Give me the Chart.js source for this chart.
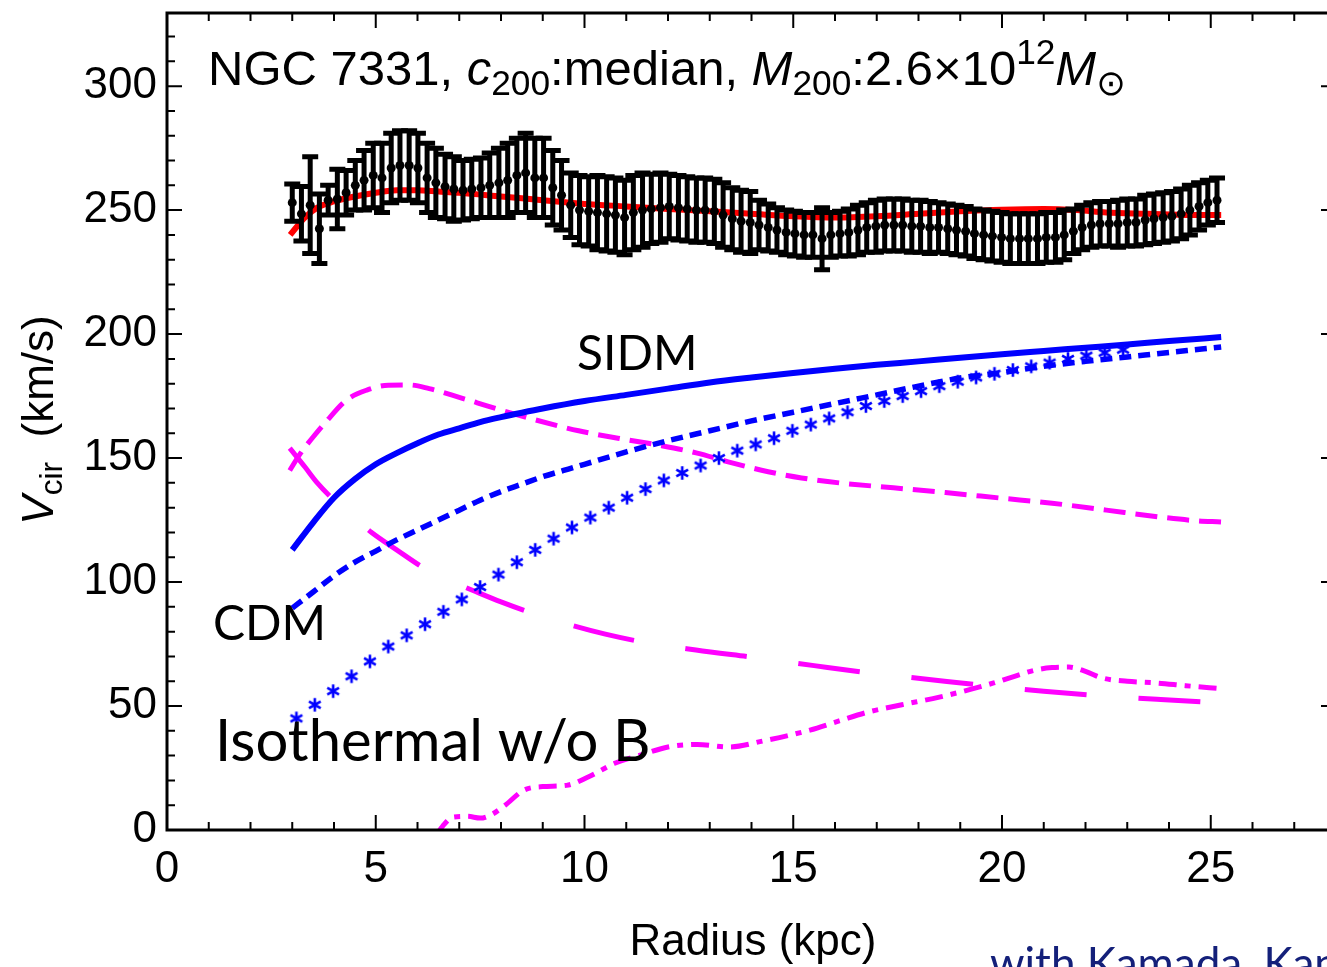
<!DOCTYPE html>
<html><head><meta charset="utf-8">
<script src="https://cdn.jsdelivr.net/npm/chart.js@4.4.1/dist/chart.umd.min.js"></script>
<style>html,body{margin:0;padding:0;overflow:hidden;background:#fff}canvas{display:block}</style>
</head><body>
<canvas id="c" width="1344" height="967" style="width:1344px;height:967px"></canvas>
<script>
// ---------- data ----------
const xTickVals = [0, 5, 10, 15, 20, 25];
const yTickVals = [0, 50, 100, 150, 200, 250, 300];

const obsR = [3.00,3.22,3.43,3.65,3.86,4.08,4.29,4.51,4.72,4.94,5.15,5.37,5.58,5.80,6.01,6.23,6.44,6.66,6.87,7.09,7.30,7.52,7.73,7.95,8.16,8.38,8.59,8.81,9.02,9.24,9.45,9.67,9.88,10.10,10.31,10.53,10.74,10.96,11.17,11.39,11.60,11.82,12.03,12.25,12.46,12.68,12.89,13.11,13.32,13.54,13.75,13.97,14.18,14.40,14.61,14.83,15.04,15.26,15.47,15.69,15.90,16.12,16.33,16.55,16.76,16.98,17.19,17.41,17.62,17.84,18.05,18.27,18.48,18.70,18.91,19.13,19.34,19.56,19.77,19.99,20.20,20.42,20.63,20.85,21.06,21.28,21.49,21.71,21.92,22.14,22.35,22.57,22.78,23.00,23.21,23.43,23.64,23.86,24.07,24.29,24.50,24.72,24.93,25.15];
const obsV = [253,248.5,252,242.5,254,254.5,257,260,262,264,263,267,268,268,267,263,261,259.5,258.5,258,258.5,259,260,261,262,264,265,263,263,259,256,252,250,249.5,249,248.5,248,247,249,250,250.5,251,251.5,251,250.5,250,250,249.5,248,246.5,245.5,245,244,243,242,241,240.5,240,240,238.5,240,240.5,241,242,243,243.5,244,244,244,243.5,243.5,243,243,242.5,242,241.5,240.5,240,239.5,239,238.5,238.5,238.5,238.5,239,239,240,241.5,243,244,244.5,244.5,244.5,245,245,246,246.5,247,247.5,248.5,250,251.5,253,254];
const obsErr = [7.5,11,19.5,14,6,12,9,10,12,13,14,14,14,14,14,14,14,13,13,12,12,12,13,14,15,15,16,16,16,15,14,13,14,14,15,15,15,15,15,15,14,14,13,13,13,13,13,13,13,12.5,12.5,12.5,10,9.5,9,9,9,9,9,12.5,9,9,9.5,10,10,10.5,10.5,10.5,10.5,10.5,10.5,10.5,10,10,10,10,10,10,10,10,10,10,10,10,10,10,10,9,9,9,9,9,9.5,9.5,9.5,10,10,10,10,10,10,9.5,9,9];

const fitR = [2.95,3.3,3.6,4.0,4.5,5.0,5.5,6.0,6.5,7.0,8.0,9.0,10.0,11.0,12.0,13.0,14.0,15.0,16.0,17.0,18.0,19.0,20.0,21.0,21.8,22.5,23.5,24.5,25.25];
const fitV = [240,247,251,253.5,255.5,257,258,258,257.5,257,255.5,254,252.5,251.5,250.5,249.5,248.5,247.5,247,247.5,248.5,249.5,250.2,250.5,250,249,248.5,248,248];

const sidmR = [3.0,3.5,4.0,4.5,5.0,5.5,6.0,6.5,7.0,7.5,8.0,8.5,9.0,10,11,12,13,14,15,16,17,18,19,20,21,22,23,24,25.25];
const sidmV = [113,124,134,141.5,147.5,152,156,159.5,162,164.5,166.5,168.3,170,173,175.5,178,180.5,182.5,184.3,186,187.6,189,190.5,191.9,193.2,194.5,195.8,197.2,198.8];

const cdmR = [3.0,3.5,4.0,4.5,5.0,5.5,6.0,6.5,7.0,7.5,8.0,8.5,9.0,9.5,10,11,12,13,14,15,16,17,18,19,20,21,22,23,24,25.25];
const cdmV = [89.5,96,102.5,108,112.5,117,121,125,129,133,136.5,139.5,142.5,145,147.5,152.5,157,161,165,168.5,172,175.5,179,182.3,184.5,187,189,190.8,192.6,194.8];

const isoR = [3.10,3.54,3.98,4.42,4.86,5.30,5.74,6.18,6.62,7.06,7.50,7.94,8.38,8.82,9.26,9.70,10.14,10.58,11.02,11.46,11.90,12.34,12.78,13.22,13.66,14.10,14.54,14.98,15.42,15.86,16.30,16.74,17.18,17.62,18.06,18.50,18.94,19.38,19.82,20.26,20.70,21.14,21.58,22.02,22.46,22.90];
const isoV = [45,50.5,56,62,68,74,78.5,83,88,93,98,103,108,113,117.5,122,126,130,134,137.5,141,144,147,150,153,155.5,158,161,163.5,166,168.5,171,173,175,177,179,180.8,182.5,184,185.5,187,188.5,190,191.3,192.5,193.7];

const diskR = [2.94,3.2,3.5,3.8,4.3,4.8,5.3,5.8,6.28,7.0,7.87,8.8,9.86,10.8,11.85,12.7,13.44,14.4,15.2,16.1,17.4,18.7,20.0,21.2,22.5,23.8,24.6,25.25];
const diskV = [145,152,158.5,164.5,173.4,177.5,179.4,179.5,178,174.5,170,165.5,161,158,155,152,148.5,144.5,142,140,138,136,133.8,131.8,129,126.2,124.8,124.2];

const bulgeR = [2.94,3.3,3.6,3.94,4.4,4.9,5.5,6.16,6.7,7.3,8.0,8.74,9.5,10.5,11.5,12.67,14.15,15.5,17.0,18.2,19.8,21.0,22.5,23.8,25.25];
const bulgeV = [154,146.5,140,134,127,120,113,105.6,101,96.8,92,87.5,83.5,79,75.5,72.6,69.4,66.3,63,60.8,57.9,56,54,52.6,51.2];

const gasR = [6.45,6.6,6.85,7.2,7.5,7.75,8.1,8.54,9.0,9.57,10.1,10.74,11.4,12.0,12.7,13.46,14.3,15.4,16.1,16.8,17.6,18.5,19.2,19.8,20.3,20.8,21.2,21.6,22.0,22.4,23.0,23.7,24.4,25.25];
const gasV = [-2,1.5,5.2,5.5,4.8,6,10,16,17.5,18,21.5,27,30.5,33.5,34.5,33.5,36,40.3,44,47.6,50.5,53.6,56.5,59.3,62,64.5,65.5,65.7,64,61.3,60,59.3,58.2,57];

// ---------- helpers ----------
const FAM = "'Liberation Sans', Arial, 'DejaVu Sans', sans-serif";
const GILL = "Lato, 'Open Sans', sans-serif";
const pts = (xs, ys) => xs.map((v, i) => ({x: v, y: ys[i]}));

function makeStar() {
  const c = document.createElement('canvas');
  c.width = 18; c.height = 18;
  const g = c.getContext('2d');
  g.strokeStyle = '#0000ff'; g.lineWidth = 2.6; g.lineCap = 'butt';
  g.beginPath();
  for (let k = 0; k < 3; k++) {
    const a = Math.PI / 2 + k * Math.PI / 3, R = 6.8;
    g.moveTo(9 + R * Math.cos(a), 9 + R * Math.sin(a));
    g.lineTo(9 - R * Math.cos(a), 9 - R * Math.sin(a));
  }
  g.stroke();
  return c;
}

function rich(ctx, x, y, parts, size, draw) {
  let cx = x;
  for (const p of parts) {
    let s = size, dy = 0, st = '';
    if (p.f === 'i') st = 'italic ';
    if (p.f === 'sub') { s = size * 0.72; dy = size * 0.2; }
    if (p.f === 'sup') { s = size * 0.72; dy = -size * 0.42; }
    ctx.font = st + s + 'px ' + (p.fam || FAM);
    if (draw) ctx.fillText(p.t, cx, y + dy);
    cx += ctx.measureText(p.t).width;
  }
  return cx - x;
}

const errPlugin = {
  id: 'err',
  afterDatasetDraw(chart, args) {
    if (args.index !== 0) return;
    const {ctx, scales: {x, y}, chartArea: a} = chart;
    ctx.save();
    ctx.beginPath(); ctx.rect(a.left, a.top, a.right - a.left, a.bottom - a.top); ctx.clip();
    ctx.strokeStyle = '#000'; ctx.lineWidth = 5; ctx.lineCap = 'butt';
    obsR.forEach((r, i) => {
      const px = x.getPixelForValue(r);
      const t = y.getPixelForValue(obsV[i] + obsErr[i]);
      const b = y.getPixelForValue(obsV[i] - obsErr[i]);
      ctx.beginPath();
      ctx.moveTo(px, t - 2.5); ctx.lineTo(px, b + 2.5);
      ctx.moveTo(px - 8, t); ctx.lineTo(px + 8, t);
      ctx.moveTo(px - 8, b); ctx.lineTo(px + 8, b);
      ctx.stroke();
    });
    ctx.restore();
  }
};

const framePlugin = {
  id: 'frame',
  afterDraw(chart) {
    const {ctx, scales: {x, y}, chartArea: a} = chart;
    ctx.save();
    ctx.strokeStyle = '#000';
    ctx.lineWidth = 3;
    ctx.strokeRect(a.left, a.top, a.right - a.left, a.bottom - a.top);
    ctx.lineWidth = 2;
    ctx.beginPath();
    for (let v = 0; v <= 28; v++) {
      const px = x.getPixelForValue(v);
      const L = (v % 5 === 0) ? 15 : 8;
      ctx.moveTo(px, a.bottom); ctx.lineTo(px, a.bottom - L);
      ctx.moveTo(px, a.top); ctx.lineTo(px, a.top + L);
    }
    for (let v = 0; v <= 320; v += 10) {
      const py = y.getPixelForValue(v);
      const L = (v % 50 === 0) ? 15 : 8;
      ctx.moveTo(a.left, py); ctx.lineTo(a.left + L, py);
      ctx.moveTo(a.right, py); ctx.lineTo(a.right - L, py);
    }
    ctx.stroke();

    // texts
    ctx.fillStyle = '#000';
    ctx.textBaseline = 'alphabetic';
    ctx.textAlign = 'left';
    const title = [
      {t: 'NGC 7331, ', f: 'n'}, {t: 'c', f: 'i'}, {t: '200', f: 'sub'},
      {t: ':median, ', f: 'n'}, {t: 'M', f: 'i'}, {t: '200', f: 'sub'},
      {t: ':2.6×10', f: 'n'}, {t: '12', f: 'sup'}, {t: 'M', f: 'i'},
      {t: '⊙', f: 'sub', fam: "'DejaVu Sans', sans-serif"}
    ];
    rich(ctx, 208, 85, title, 49, true);

    // x title
    ctx.font = '44px ' + FAM;
    ctx.textAlign = 'center';
    ctx.fillText('Radius (kpc)', 753, 955);

    // y title rotated
    ctx.save();
    ctx.translate(53, 420);
    ctx.rotate(-Math.PI / 2);
    ctx.textAlign = 'left';
    const yt = [{t: 'V', f: 'i'}, {t: 'cir', f: 'sub'}, {t: '  (km/s)', f: 'n'}];
    const w = rich(ctx, 0, 0, yt, 44, false);
    rich(ctx, -w / 2, 0, yt, 44, true);
    ctx.restore();

    // curve labels
    ctx.textAlign = 'left';
    ctx.font = '48px ' + GILL;
    ctx.fillText('SIDM', 577, 370);
    ctx.fillText('CDM', 213, 640);
    ctx.font = '58px ' + GILL;
    ctx.fillText('Isothermal w/o B', 215, 761);
    ctx.fillStyle = '#14207a';
    ctx.font = '44px ' + GILL;
    ctx.fillText('with Kamada, Kaplinghat', 990, 979);
    ctx.restore();
  }
};

const tickFont = {family: FAM, size: 44};

new Chart(document.getElementById('c'), {
  type: 'scatter',
  data: {
    datasets: [
      {label: 'fit', data: pts(fitR, fitV), showLine: true, borderColor: '#ff0000', borderWidth: 6,
       pointRadius: 0, cubicInterpolationMode: 'monotone', order: 3},
      {label: 'obs', data: pts(obsR, obsV), showLine: false, pointRadius: 4.5, pointBackgroundColor: '#000',
       pointBorderColor: '#000', pointBorderWidth: 0, order: 1},
      {label: 'SIDM', data: pts(sidmR, sidmV), showLine: true, borderColor: '#0000ff', borderWidth: 6,
       pointRadius: 0, cubicInterpolationMode: 'monotone', order: 2},
      {label: 'CDM', data: pts(cdmR, cdmV), showLine: true, borderColor: '#0000ff', borderWidth: 5.5,
       borderDash: [12, 7], pointRadius: 0, cubicInterpolationMode: 'monotone', order: 2},
      {label: 'Isothermal w/o B', data: pts(isoR, isoV), showLine: false, pointStyle: makeStar(),
       pointRadius: 7, order: 2},
      {label: 'disk', data: pts(diskR, diskV), showLine: true, borderColor: '#ff00ff', borderWidth: 5,
       borderDash: [22, 10], pointRadius: 0, cubicInterpolationMode: 'monotone', order: 2},
      {label: 'bulge', data: pts(bulgeR, bulgeV), showLine: true, borderColor: '#ff00ff', borderWidth: 5,
       borderDash: [62, 52], pointRadius: 0, cubicInterpolationMode: 'monotone', order: 2},
      {label: 'gas', data: pts(gasR, gasV), showLine: true, borderColor: '#ff00ff', borderWidth: 5,
       borderDash: [18, 8, 6, 8], pointRadius: 0, cubicInterpolationMode: 'monotone', order: 2}
    ]
  },
  options: {
    responsive: false, animation: false, devicePixelRatio: 1,
    layout: {padding: {top: 13, right: 3, left: 0, bottom: 0}},
    plugins: {legend: {display: false}, tooltip: {enabled: false}},
    scales: {
      x: {
        type: 'linear', min: 0, max: 28,
        afterBuildTicks(s) { s.ticks = xTickVals.map(v => ({value: v})); },
        afterFit(s) { s.height = 137; s.paddingLeft = 0; s.paddingRight = 0; },
        grid: {display: false}, border: {display: false},
        ticks: {font: tickFont, color: '#000', padding: 5, maxRotation: 0, autoSkip: false}
      },
      y: {
        type: 'linear', min: 0, max: 329.5,
        afterBuildTicks(s) { s.ticks = yTickVals.map(v => ({value: v})); },
        afterFit(s) { s.width = 167; s.paddingTop = 0; s.paddingBottom = 0; },
        grid: {display: false}, border: {display: false},
        ticks: {font: tickFont, color: '#000', padding: 2, autoSkip: false}
      }
    }
  },
  plugins: [errPlugin, framePlugin]
});
</script></body></html>
